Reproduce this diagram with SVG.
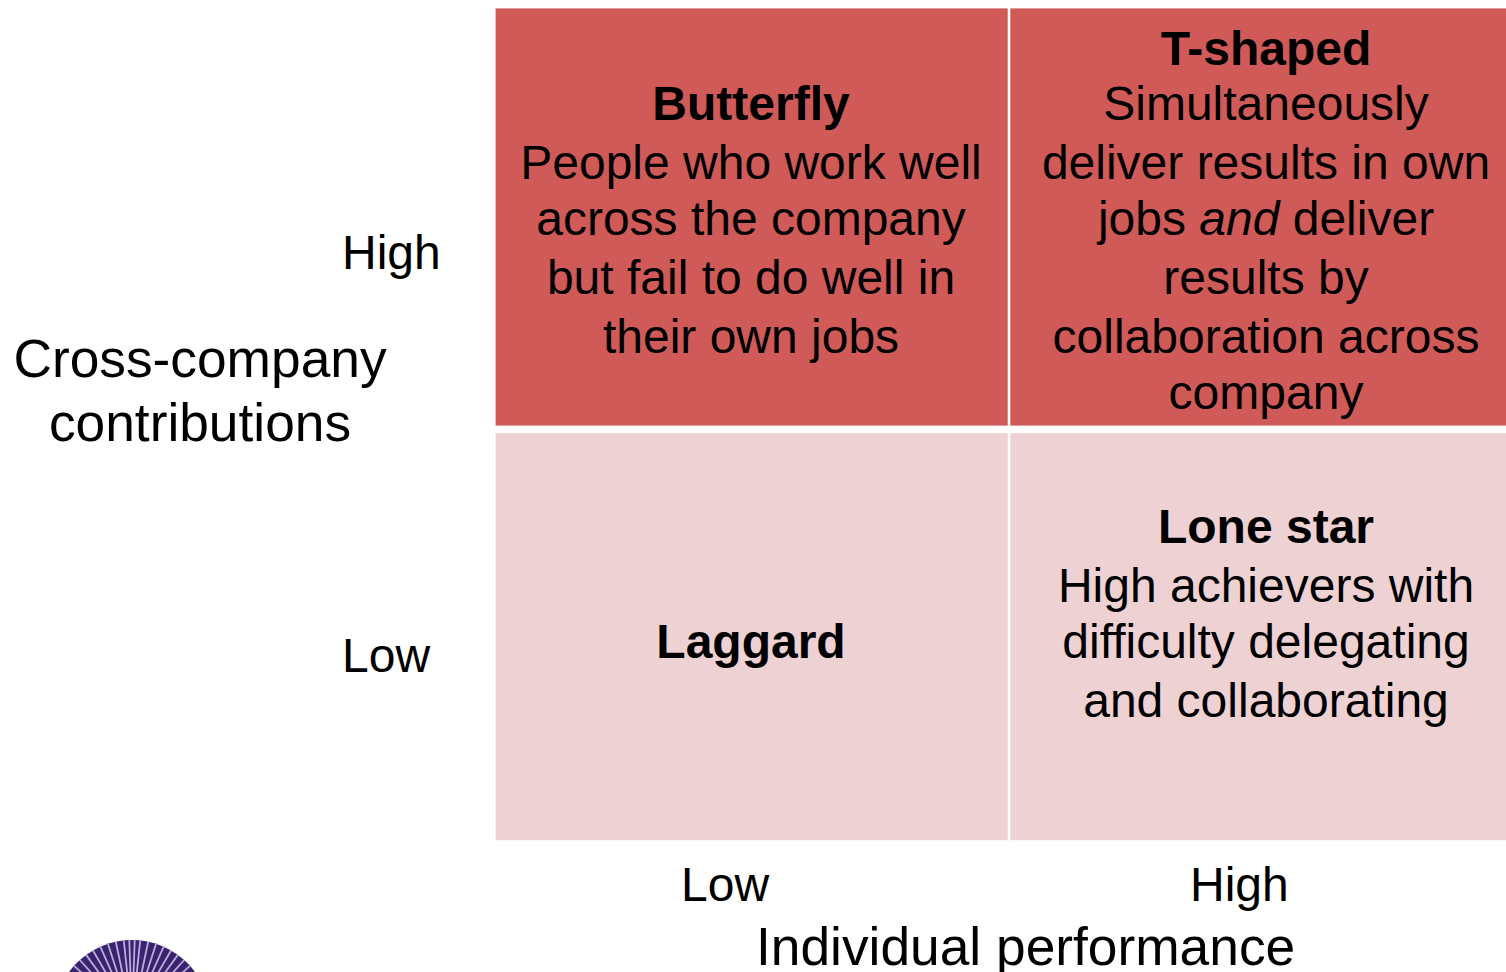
<svg xmlns="http://www.w3.org/2000/svg" width="1506" height="972" viewBox="0 0 1506 972">
<style>
text{font-family:"Liberation Sans",Arial,sans-serif;fill:#000;font-size:48px}
.c{text-anchor:middle}
.b{font-weight:700}
.ax{font-size:53.3px}
.dark{fill:#cf5a58}
.light{fill:#edd1d3}
</style>
<rect width="1506" height="972" fill="#fff"/>
<g id="butterfly"><rect class="dark" x="495.6" y="8.4" width="512.1" height="417.2"/>
<text class="c b" x="751" y="120">Butterfly</text>
<text class="c" x="751" y="179">People who work well</text>
<text class="c" x="751" y="235">across the company</text>
<text class="c" x="751" y="294">but fail to do well in</text>
<text class="c" x="751" y="353">their own jobs</text></g>
<g id="tshaped"><rect class="dark" x="1010.3" y="8.4" width="495.7" height="417.2"/>
<text class="c b" x="1266" y="65">T-shaped</text>
<text class="c" x="1266" y="120">Simultaneously</text>
<text class="c" x="1266" y="179">deliver results in own</text>
<text class="c" x="1266" y="235">jobs <tspan font-style="italic">and</tspan> deliver</text>
<text class="c" x="1266" y="294">results by</text>
<text class="c" x="1266" y="353">collaboration across</text>
<text class="c" x="1266" y="409">company</text></g>
<g id="laggard"><rect class="light" x="495.6" y="433.2" width="512.1" height="407"/>
<text class="c b" x="751" y="658">Laggard</text></g>
<g id="lonestar"><rect class="light" x="1010.3" y="433.2" width="495.7" height="407"/>
<text class="c b" x="1266" y="543">Lone star</text>
<text class="c" x="1266" y="602">High achievers with</text>
<text class="c" x="1266" y="658">difficulty delegating</text>
<text class="c" x="1266" y="717">and collaborating</text></g>
<g id="axis-labels">
<text x="342" y="269">High</text>
<text x="342" y="672">Low</text>
<text class="c ax" x="200" y="377">Cross-company</text>
<text class="c ax" x="200" y="441">contributions</text>
<text x="681" y="901">Low</text>
<text x="1190" y="901">High</text>
<text class="ax" x="756" y="965">Individual performance</text>
</g>
<g id="logo">
<circle cx="132" cy="1018" r="78" fill="#3a2370"/>
<path fill="none" stroke="#b9aed6" stroke-width="1.8" d="M132 1018L134.700 940.100M132 1018L129.300 940.100M132 1018L140.200 940.400M132 1018L123.800 940.400M132 1018L148.200 941.700M132 1018L115.800 941.700M132 1018L156.100 943.800M132 1018L107.900 943.800M132 1018L163.700 946.700M132 1018L100.300 946.700M132 1018L171 950.500M132 1018L93 950.500M132 1018L177.900 954.900M132 1018L86.100 954.900M132 1018L184.200 960M132 1018L79.800 960M132 1018L190 965.800M132 1018L74 965.800M132 1018L195.100 972.100M132 1018L68.900 972.100"/>
</g>
</svg>
